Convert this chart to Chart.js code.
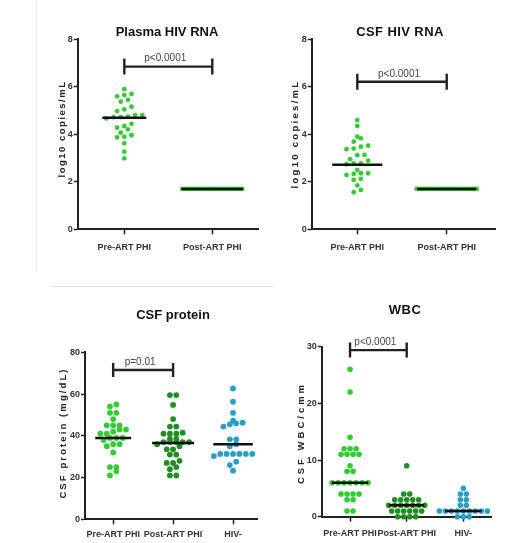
<!DOCTYPE html>
<html>
<head>
<meta charset="utf-8">
<script src="https://cdn.jsdelivr.net/npm/chart.js@4.4.1/dist/chart.umd.min.js"></script>
<style>
  body { margin: 0; background: #fff; width: 530px; height: 543px; position: relative; overflow: hidden;
         font-family: 'Liberation Sans', Arial, sans-serif; }
  .panel { position: absolute; }
  .title { position: absolute; font-weight: bold; font-size: 13px; color: #111;
           transform: translate(-50%, -50%); white-space: nowrap; }
  .ytitle { position: absolute; font-weight: bold; font-size: 9.5px; color: #222;
            transform: translate(-50%, -50%) rotate(-90deg); white-space: nowrap; }
  .rule { position: absolute; background: #e4e4ec; }
</style>
</head>
<body>
<div class="rule" style="left:36px;top:0;width:1px;height:272px"></div>
<div class="rule" style="left:50px;top:286px;width:223px;height:1px"></div>

<div class="panel" style="left:0;top:0;width:265px;height:270px"><canvas id="plasma"></canvas></div>
<div class="panel" style="left:265px;top:0;width:265px;height:270px"><canvas id="csfRna"></canvas></div>
<div class="panel" style="left:0;top:290px;width:270px;height:253px"><canvas id="protein"></canvas></div>
<div class="panel" style="left:270px;top:290px;width:260px;height:253px"><canvas id="wbc"></canvas></div>

<div class="title" style="left:167px;top:31px">Plasma HIV RNA</div>
<div class="title" style="left:400px;top:31px;letter-spacing:0.4px">CSF HIV RNA</div>
<div class="title" style="left:173px;top:314px">CSF protein</div>
<div class="title" style="left:405px;top:309px;letter-spacing:0.5px">WBC</div>
<div class="ytitle" style="left:61px;top:129px;letter-spacing:1.5px">log10 copies/mL</div>
<div class="ytitle" style="left:294px;top:134px;letter-spacing:2.3px">log10 copies/mL</div>
<div class="ytitle" style="left:62px;top:433px;letter-spacing:2.1px">CSF protein (mg/dL)</div>
<div class="ytitle" style="left:300px;top:433px;letter-spacing:3px">CSF WBC/cmm</div>

<script>
// ---- data ----
const twoGroups = ['Pre-ART PHI', 'Post-ART PHI'];
const threeGroups = ['Pre-ART PHI', 'Post-ART PHI', 'HIV-'];

const plasmaPre = [5.9, 5.7, 5.65, 5.6, 5.45, 5.38, 5.16, 5.05, 4.98, 4.81, 4.81, 4.74, 4.72,
  4.72, 4.67, 4.44, 4.35, 4.28, 4.21, 4.07, 3.96, 3.9, 3.87, 3.62, 3.27, 2.99];
const plasmaPost = [1.7, 1.7, 1.7, 1.7, 1.7, 1.7, 1.7, 1.7, 1.7, 1.7, 1.7, 1.7, 1.7,
  1.7, 1.7, 1.7, 1.7, 1.7, 1.7, 1.7, 1.7, 1.7, 1.7, 1.7, 1.7, 1.7];
const plasmaMedians = [4.7, 1.7];

const csfRnaPre = [4.6, 4.35, 3.9, 3.83, 3.69, 3.52, 3.48, 3.4, 3.37, 3.13, 3.12, 2.95, 2.89,
  2.78, 2.78, 2.74, 2.5, 2.36, 2.36, 2.33, 2.29, 2.12, 2.08, 1.85, 1.66, 1.56];
const csfRnaPost = [1.7, 1.7, 1.7, 1.7, 1.7, 1.7, 1.7, 1.7, 1.7, 1.7, 1.7, 1.7, 1.7,
  1.7, 1.7, 1.7, 1.7, 1.7, 1.7, 1.7, 1.7, 1.7, 1.7, 1.7, 1.7, 1.7];
const csfRnaMedians = [2.72, 1.7];
const rnaTicks = [0, 2, 4, 6, 8];

const proteinPre = [55, 54, 51, 51, 48, 45, 45, 45, 43, 43, 42, 41, 41, 39, 39, 39, 38, 36, 36,
  35, 32, 25, 25, 23, 21];
const proteinPost = [59.5, 59.5, 54.8, 48, 44.4, 44.4, 41.5, 41, 41, 41, 38.5, 38.5, 37, 37, 37,
  37, 37, 36, 35, 33.5, 33.5, 31, 31, 28, 27, 27, 25, 24, 21, 21];
const proteinNeg = [62.7, 56.3, 51, 47.2, 46.3, 46, 45.5, 44.4, 38.3, 38.3, 36, 35, 31.3, 31.3,
  31.3, 31.3, 31.3, 31.3, 30.3, 27.6, 26, 23.3];
const proteinMedians = [39, 36.5, 36];
const proteinTicks = [0, 20, 40, 60, 80];

const wbcPre = [26, 22, 14, 12, 12, 12, 11, 11, 11, 11, 9, 8, 8, 6, 6, 6, 6, 6, 6, 6, 4, 4, 4, 4,
  3, 3, 1, 1];
const wbcPost = [9, 4, 4, 3, 3, 3, 3, 3, 2, 2, 2, 2, 2, 2, 2, 1, 1, 1, 1, 1, 1, 0, 0, 0, 0];
const wbcNeg = [5, 4, 4, 3, 3, 2, 2, 1, 1, 1, 1, 1, 1, 1, 1, 1, 0, 0, 0];
const wbcMedians = [6, 2, 1];
const wbcTicks = [0, 10, 20, 30];

const LIGHT_GREEN = '#33cc33';
const DARK_GREEN = '#1f8f1f';
const TEAL = '#2a9ec6';
const INK = '#222';

// significance bar drawn through the chart's own scales
const bracketPlugin = {
  id: 'bracket',
  afterDatasetsDraw(chart, args, opts) {
    if (!opts || opts.y === undefined) return;
    const { ctx, scales: { x, y } } = chart;
    const x0 = x.getPixelForValue(opts.from);
    const x1 = x.getPixelForValue(opts.to);
    const py = y.getPixelForValue(opts.y);
    ctx.save();
    ctx.strokeStyle = INK;
    ctx.lineWidth = 2.4;
    ctx.beginPath();
    ctx.moveTo(x0, py); ctx.lineTo(x1, py);
    ctx.moveTo(x0, py - opts.arm); ctx.lineTo(x0, py + opts.arm);
    ctx.moveTo(x1, py - opts.arm); ctx.lineTo(x1, py + opts.arm);
    ctx.stroke();
    ctx.fillStyle = '#444';
    ctx.font = "10px 'Liberation Sans', Arial, sans-serif";
    ctx.textAlign = 'center';
    ctx.textBaseline = 'middle';
    ctx.fillText(opts.label, (x0 + x1) / 2 - 3, py - 8);
    ctx.restore();
  }
};

// column scatter: bin dots into rows, centre each row on the group
function swarm(py, gap, rowH, cap) {
  const order = py.map((_, i) => i).sort((a, b) => py[b] - py[a]);
  const rows = [];
  let cur = null;
  order.forEach(i => {
    if (!cur || cur.start - py[i] >= rowH) { cur = { start: py[i], idx: [] }; rows.push(cur); }
    cur.idx.push(i);
  });
  const off = new Array(py.length).fill(0);
  rows.forEach(r => r.idx.forEach((i, j) => { off[i] = (j - (r.idx.length - 1) / 2) * gap; }));
  const widest = Math.max(...off.map(Math.abs));
  if (cap && widest > cap) return off.map(o => o * cap / widest);
  return off;
}

const makePanel = (canvasId, cfg) => {
  const canvas = document.getElementById(canvasId);
  const w = canvas.parentNode.clientWidth, h = canvas.parentNode.clientHeight;
  const yW = 20, xH = 32;
  const labels = cfg.labels;
  const tickFont = { family: "'Liberation Sans', Arial, sans-serif", size: 9, weight: 'bold' };

  const medianSets = cfg.medians.map((m, g) => ({
    showLine: true,
    data: [{ x: g - cfg.halfWidths[g], y: m }, { x: g + cfg.halfWidths[g], y: m }],
    borderColor: '#111',
    borderWidth: 2.5,
    pointRadius: 0,
    order: 0,
    clip: false
  }));
  const pointSets = cfg.groups.map((vals, g) => ({
    data: vals.map(v => ({ x: g, y: v })),
    backgroundColor: cfg.colors[g],
    borderWidth: 0,
    pointRadius: cfg.radius,
    order: 1,
    clip: false
  }));

  const chart = new Chart(canvas, {
    type: 'scatter',
    data: { datasets: [...medianSets, ...pointSets] },
    options: {
      responsive: true,
      maintainAspectRatio: false,
      animation: false,
      events: [],
      layout: {
        padding: {
          left: cfg.area.l - yW,
          top: cfg.area.t,
          right: w - cfg.area.r,
          bottom: h - cfg.area.b - xH
        }
      },
      scales: {
        x: {
          type: 'linear',
          min: cfg.xMin,
          max: cfg.xMax,
          afterFit: s => { s.height = xH; },
          afterBuildTicks: s => { s.ticks = labels.map((_, i) => ({ value: i })); },
          ticks: {
            callback: v => labels[Math.round(v)],
            autoSkip: false,
            maxRotation: 0,
            padding: cfg.labelPad,
            color: '#333',
            font: tickFont
          },
          grid: { drawOnChartArea: false, tickLength: 5, tickWidth: 1.5, tickColor: INK },
          border: { color: INK, width: 2 }
        },
        y: {
          min: 0,
          max: cfg.yTicks[cfg.yTicks.length - 1],
          afterFit: s => { s.width = yW; },
          afterBuildTicks: s => { s.ticks = cfg.yTicks.map(v => ({ value: v })); },
          ticks: { padding: 1, color: '#333', font: tickFont },
          grid: { drawOnChartArea: false, tickLength: 4, tickWidth: 1.5, tickColor: INK },
          border: { color: INK, width: 2 }
        }
      },
      plugins: {
        legend: { display: false },
        tooltip: { enabled: false },
        bracket: cfg.bracket
      }
    },
    plugins: [bracketPlugin]
  });

  const xs = chart.scales.x, ys = chart.scales.y;
  const unit = xs.getPixelForValue(1) - xs.getPixelForValue(0);
  cfg.groups.forEach((vals, g) => {
    const off = swarm(vals.map(v => ys.getPixelForValue(v)), cfg.gap, cfg.rowH, cfg.caps[g]);
    chart.data.datasets[cfg.medians.length + g].data = vals.map((v, k) => ({ x: g + off[k] / unit, y: v }));
  });
  chart.update('none');
  return chart;
};

makePanel('plasma', {
  labels: twoGroups,
  groups: [plasmaPre, plasmaPost],
  medians: plasmaMedians,
  colors: [LIGHT_GREEN, LIGHT_GREEN],
  yTicks: rnaTicks,
  xMin: -0.53, xMax: 1.52,
  area: { l: 77.7, t: 39.3, r: 258, b: 229.3 },
  radius: 2.4, gap: 7.2, rowH: 4.6, caps: [0, 30],
  halfWidths: [0.25, 0.35],
  labelPad: 8,
  bracket: { from: 0, to: 1, y: 6.85, arm: 8, label: 'p<0.0001' }
});

makePanel('csfRna', {
  labels: twoGroups,
  groups: [csfRnaPre, csfRnaPost],
  medians: csfRnaMedians,
  colors: [LIGHT_GREEN, LIGHT_GREEN],
  yTicks: rnaTicks,
  xMin: -0.51, xMax: 1.54,
  area: { l: 46.7, t: 39.3, r: 230, b: 229.3 },
  radius: 2.4, gap: 7.2, rowH: 4.6, caps: [0, 30],
  halfWidths: [0.28, 0.33],
  labelPad: 8,
  bracket: { from: 0, to: 1, y: 6.21, arm: 8, label: 'p<0.0001' }
});

makePanel('protein', {
  labels: threeGroups,
  groups: [proteinPre, proteinPost, proteinNeg],
  medians: proteinMedians,
  colors: [LIGHT_GREEN, DARK_GREEN, TEAL],
  yTicks: proteinTicks,
  xMin: -0.47, xMax: 2.4,
  area: { l: 85, t: 62.3, r: 257, b: 229.3 },
  radius: 2.9, gap: 6.4, rowH: 5, caps: [0, 0, 0],
  halfWidths: [0.3, 0.35, 0.33],
  labelPad: 5,
  bracket: { from: 0, to: 1, y: 71.5, arm: 7, label: 'p=0.01' }
});

makePanel('wbc', {
  labels: threeGroups,
  groups: [wbcPre, wbcPost, wbcNeg],
  medians: wbcMedians,
  colors: [LIGHT_GREEN, DARK_GREEN, TEAL],
  yTicks: wbcTicks,
  xMin: -0.5, xMax: 2.5,
  area: { l: 51.7, t: 56.7, r: 221.7, b: 226.7 },
  radius: 2.8, gap: 6, rowH: 5, caps: [0, 0, 0],
  halfWidths: [0.32, 0.31, 0.32],
  labelPad: 6,
  bracket: { from: 0, to: 1, y: 29.4, arm: 7.5, label: 'p<0.0001' }
});
</script>
</body>
</html>
